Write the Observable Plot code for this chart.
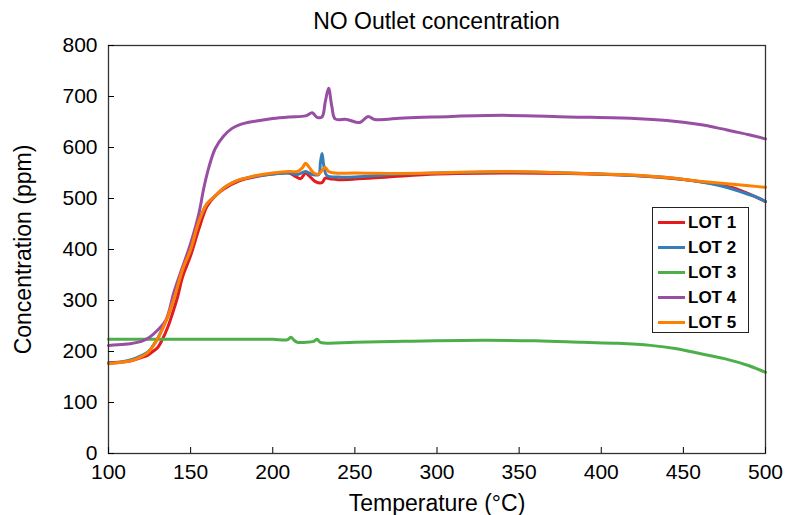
<!DOCTYPE html>
<html>
<head>
<meta charset="utf-8">
<script src="https://cdn.jsdelivr.net/npm/d3@7"></script>
<script src="https://cdn.jsdelivr.net/npm/@observablehq/plot@0.6"></script>
<style>
  body { margin: 0; background: #fff; }
  #wrap { position: relative; width: 785px; height: 515px; font-family: "Liberation Sans", Arial, sans-serif; }
  #title { position: relative; z-index: 2; height: 26px; margin-left: 108px; width: 657px; text-align: center; font-size: 23px; line-height: 42px; color: #000; white-space: nowrap; }
  #legend { position: absolute; left: 652px; top: 207px; width: 97px; height: 126px; border: 1.3px solid #222; background: #fff; box-sizing: border-box; padding-top: 2px; }
  .li { display: flex; align-items: center; height: 25px; font-weight: bold; font-size: 17px; color: #000; }
  .sw { width: 27px; height: 3px; margin-left: 5px; margin-right: 3px; }
</style>
</head>
<body>
<div id="wrap">
  <div id="title">NO Outlet concentration</div>
  <div id="chart"></div>
  <div id="legend"></div>
</div>
<script>
const lotNames = ["LOT 1", "LOT 2", "LOT 3", "LOT 4", "LOT 5"];
const lotColors = ["#e41a1c", "#377eb8", "#4daf4a", "#984ea3", "#ff7f00"];
const xTicks = [100, 150, 200, 250, 300, 350, 400, 450, 500];
const yTicks = [0, 100, 200, 300, 400, 500, 600, 700, 800];

// [temperature °C, concentration ppm]
const lot1 = [[100,178],[110,180],[115,183],[120,188],[124,193],[127,200],[130,208],[133,225],[136,247],[140,285],[142,306],[145,345],[150,388],[155,440],[160,485],[165,505],[170,518],[180,535],[190,543],[200,548],[210,550],[214,543],[217,539],[220,550],[222,545],[226,533],[230,531],[232,540],[236,538],[240,537],[250,538],[270,542],[300,548],[340,550],[380,549],[420,545],[450,537],[470,528],[480,521],[490,509],[500,494]];
const lot2 = [[100,177],[105,178],[110,181],[115,185],[120,192],[124,199],[127,211],[130,226],[133,246],[136,268],[140,305],[145,360],[150,400],[155,455],[160,490],[165,505],[170,520],[175,530],[180,537],[185,541],[190,544],[200,548],[210,550],[215,547],[220,553],[224,547],[228,547],[229,570],[230,588],[231,566],[233,545],[240,542],[250,542],[278,548],[300,550],[339,552],[380,550],[420,545],[440,541],[460,533],[467,529],[475,523],[485,513],[495,502],[500,494]];
const lot3 = [[100,224],[150,224],[186,224],[200,224],[209,223],[211,228],[213,222],[215,218],[220,218],[225,220],[227,224],[229,218],[250,218],[280,220],[328,222],[360,221],[389,218],[410,216],[430,212],[445,206],[460,196],[475,186],[490,172],[500,159]];
const lot4 = [[100,212],[110,214],[120,220],[125,228],[130,242],[135,262],[140,318],[145,365],[150,412],[155,470],[158,520],[161,560],[165,598],[170,622],[175,637],[180,645],[190,652],[200,657],[210,660],[220,662],[224,668],[227,659],[230,660],[232,690],[234,716],[236,680],[238,656],[245,655],[253,649],[258,661],[262,655],[280,658],[300,660],[340,663],[380,660],[420,657],[440,653],[460,645],[470,639],[480,632],[490,625],[500,617]];
const lot5 = [[100,176],[105,178],[110,180],[115,183],[120,190],[124,198],[127,210],[130,225],[133,245],[136,268],[140,305],[145,360],[150,400],[155,455],[160,490],[165,505],[170,520],[175,530],[180,537],[185,541],[190,545],[200,550],[210,553],[215,553],[218,560],[220,569],[222,562],[225,550],[228,548],[230,555],[232,561],[234,553],[238,550],[250,550],[278,549],[300,550],[339,553],[380,550],[420,546],[440,541],[460,534],[470,531],[480,528],[490,525],[500,522]];

const lots = [lot1, lot2, lot3, lot4, lot5];
const data = lots.flatMap((arr, i) => arr.map(([t, c]) => ({lot: lotNames[i], t, c})));

const chart = Plot.plot({
  width: 785,
  height: 489,
  marginTop: 19,
  marginLeft: 108,
  marginRight: 20,
  marginBottom: 62,
  style: {fontFamily: "Liberation Sans, Arial, sans-serif", fontSize: "21px", color: "#000", overflow: "visible"},
  x: {domain: [100, 500]},
  y: {domain: [0, 800]},
  color: {domain: lotNames, range: lotColors},
  marks: [
    Plot.line(data, {x: "t", y: "c", z: "lot", stroke: "lot", strokeWidth: 3, curve: "catmull-rom"}),
    Plot.frame({stroke: "#333", strokeWidth: 1.3}),
    Plot.axisX({ticks: xTicks, tickSize: -6, tickPadding: 17, tickFormat: d => String(d), fontSize: 21, label: null}),
    Plot.axisY({ticks: yTicks, tickSize: -6, tickPadding: 17, tickFormat: d => String(d), fontSize: 21, label: null}),
    Plot.axisX({ticks: [], tickSize: 0, fontSize: 23, label: "Temperature (°C)", labelAnchor: "center", labelArrow: "none", labelOffset: 57}),
    Plot.axisY({ticks: [], tickSize: 0, fontSize: 23, label: "Concentration (ppm)", labelAnchor: "center", labelArrow: "none", labelOffset: 94})
  ]
});
document.getElementById("chart").appendChild(chart);

const legend = document.getElementById("legend");
lotNames.forEach((n, i) => {
  const row = document.createElement("div");
  row.className = "li";
  const sw = document.createElement("div");
  sw.className = "sw";
  sw.style.background = lotColors[i];
  const tx = document.createElement("span");
  tx.textContent = n;
  row.appendChild(sw); row.appendChild(tx);
  legend.appendChild(row);
});
</script>
</body>
</html>
